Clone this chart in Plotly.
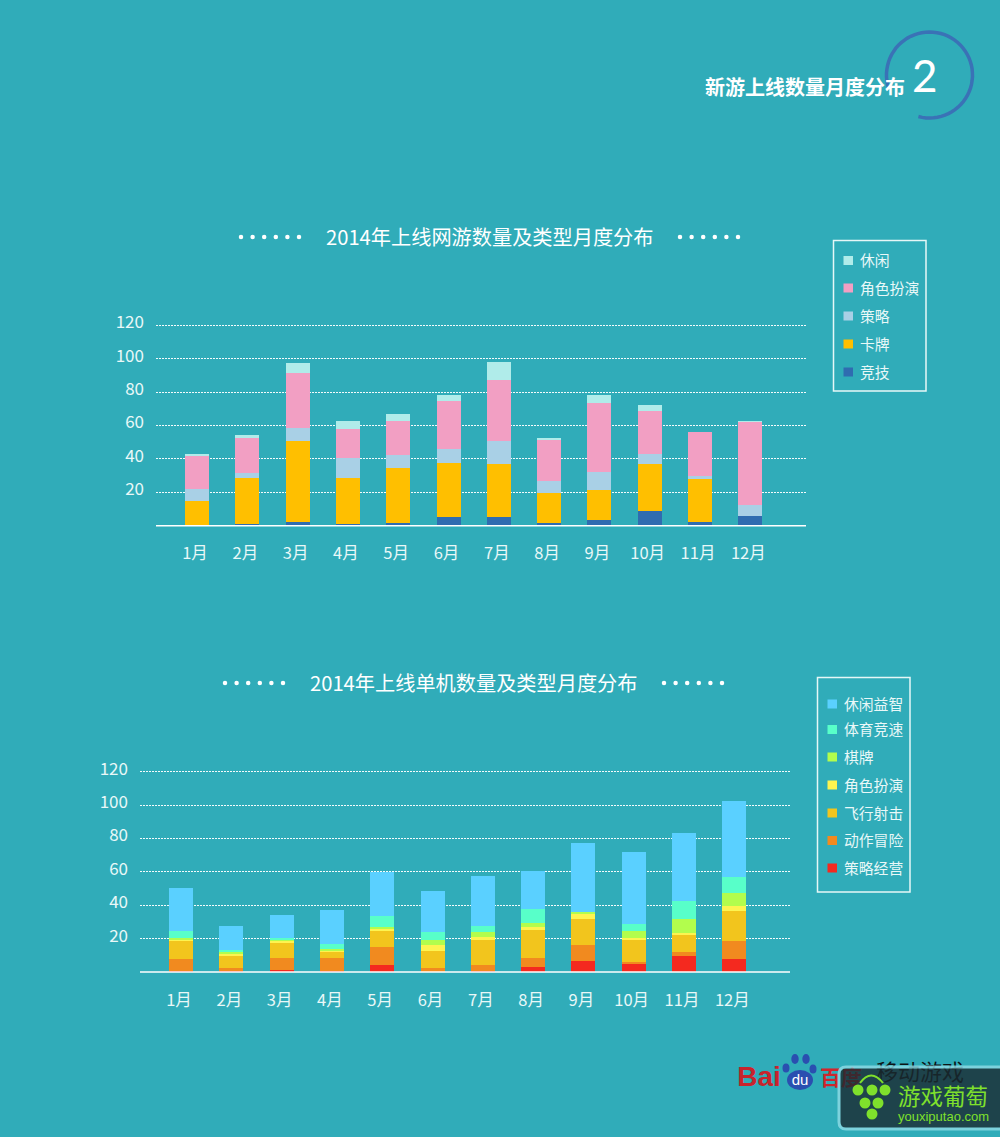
import numpy as np
import plotly.graph_objects as go

months = ["1月","2月","3月","4月","5月","6月","7月","8月","9月","10月","11月","12月"]
yticks = [20,40,60,80,100,120]

online_names = ["竞技","卡牌","策略","角色扮演","休闲"]
online_colors = ["#2f6cb0","#ffbf00","#a9d0e6","#f29fc3","#b0ecea"]
online_jingji = [0.5,1,2.2,1,1.6,5.2,5.2,1.6,3.4,8.8,2.2,5.8]
online_kapai = [14.3,27.8,48.5,27.8,33.1,32.3,31.9,18,18,28.2,25.8,0]
online_celue = [7.2,2.9,8.3,11.7,7.6,8.5,13.6,7.2,10.7,6,1.8,6.6]
online_juese = [20.3,21.3,32.5,17.5,20.4,28.7,36.6,24.5,41.9,25.7,26.3,50.3]
online_xiuxian = [0.7,1.3,6,4.7,4.2,3.6,10.7,1.2,4.3,3.6,0,0.2]
online_series = [online_jingji,online_kapai,online_celue,online_juese,online_xiuxian]

single_names = ["策略经营","动作冒险","飞行射击","角色扮演","棋牌","体育竞速","休闲益智"]
single_colors = ["#f4291f","#f18a1f","#f2c51d","#fdf450","#b2fd4d","#58ffc9","#5ad0ff"]
single_celue = [0.8,0.8,1.4,0.4,4.4,0.2,0.4,3.2,6.8,5,9.8,8]
single_dongzuo = [7.2,1.8,7.2,8.2,10.8,2.4,4,5.4,9.6,1.2,2.4,10.8]
single_feixing = [10.8,7.2,9,3.6,9.6,10.2,15,16.8,15.6,13.2,10.2,18]
single_juese = [0.2,1.2,1.2,1,0.8,3.6,1.8,1.8,3,1.2,1.2,3]
single_qipai = [1.6,1.2,0.6,0.8,1.2,3,3,2.4,1.2,4.2,8.4,7.8]
single_tiyu = [4.2,1.2,1.2,3,7,4.8,3.6,8.4,0,4.2,10.8,9.6]
single_xiuxian = [25.8,14.4,13.8,20.4,26.4,24.6,30,22.8,40.8,43.2,40.2,45]
single_series = [single_celue,single_dongzuo,single_feixing,single_juese,single_qipai,single_tiyu,single_xiuxian]

BG = "#30acb9"
FONT = "Noto Sans CJK SC"
W, H = 1000, 1137
PX_PER_UNIT = 200.4/120
YTOP = 124

fig = go.Figure()
xs = list(range(12))

def add_set(names, colors, series, xa, ya):
    for n, c, v in zip(names, colors, series):
        fig.add_bar(x=xs, y=v, name=n, marker=dict(color=c, line_width=0), width=0.477,
                    xaxis=xa, yaxis=ya, showlegend=False)

add_set(online_names, online_colors, online_series, "x", "y")
add_set(single_names, single_colors, single_series, "x2", "y2")

def xaxis(px0, px1, first, anchor):
    step = 50.3
    return dict(domain=[px0/W, px1/W], range=[(px0-first)/step, (px1-first)/step], anchor=anchor,
                tickmode="array", tickvals=xs, ticktext=months, showgrid=False,
                zeroline=False, showline=False, ticks="", ticklabelstandoff=16, ticklabelshift=-2,
                tickfont=dict(size=16.5, color="#e9f8f8", family=FONT), fixedrange=True)

def yaxis(px0, anchor):
    return dict(domain=[1-px0/H, 1-(px0-YTOP*PX_PER_UNIT)/H], range=[0,YTOP], anchor=anchor,
                tickmode="array", tickvals=yticks, showgrid=True,
                gridcolor="rgba(255,255,255,0.95)", griddash="2px,1px", gridwidth=1,
                zeroline=False, showline=False, ticks="", ticklabelstandoff=11, ticklabelshift=-3,
                tickfont=dict(size=17, color="#e9f8f8", family=FONT), fixedrange=True)

shapes, ann = [], []
# baselines
for y0, a, b in [(525.7,156,806),(972,140,790)]:
    shapes.append(dict(type="line", xref="x3", yref="y3", x0=a, x1=b, y0=y0, y1=y0,
                       line=dict(color="white", width=1.5), layer="above"))

def text(x, y, t, size, color="white", bold=False, family=FONT, anchor="center"):
    s = f"<b>{t}</b>" if bold else t
    ann.append(dict(xref="x3", yref="y3", x=x, y=y, text=s, showarrow=False, xanchor=anchor,
                    yanchor="middle", font=dict(size=size, color=color, family=family)))

text(489.5, 236.5, "2014年上线网游数量及类型月度分布", 20.2)
text(473.5, 682.5, "2014年上线单机数量及类型月度分布", 20.2)

# decorative dot rows beside the titles
dot_x, dot_y = [], []
for x0, y in [(241,237),(680,237),(225,683),(664,683)]:
    dot_x += list(np.linspace(x0, x0+58, 6))
    dot_y += [y]*6
fig.add_scatter(x=dot_x, y=dot_y, mode="markers", marker=dict(color="white", size=4.5, line_width=0),
                xaxis="x3", yaxis="y3", showlegend=False, hoverinfo="skip")

# legends, top entry first
def legend_box(x0, y0, x1, y1, names, colors, rows):
    shapes.append(dict(type="rect", xref="x3", yref="y3", x0=x0, x1=x1, y0=y0, y1=y1,
                       line=dict(color="#e6f7f7", width=1.5)))
    for n, c, ry in zip(names[::-1], colors[::-1], rows):
        shapes.append(dict(type="rect", xref="x3", yref="y3", x0=x0+10, x1=x0+19.5, y0=ry-4.5, y1=ry+4.5,
                           fillcolor=c, line_width=0))
        text(x0+24.5, ry-1, n, 14.8, color="#e9f8f8", anchor="left")

legend_box(833.5, 240.5, 926, 391, online_names, online_colors, [260.5,288,316,344,372])
legend_box(817.5, 677.5, 910, 892, single_names, single_colors, [704,729.5,757,785,813,840.5,868])

# heading with arc
text(804.5, 86, "新游上线数量月度分布", 20, bold=True)
text(925, 75, "2", 44, family="Lato")
deg = np.radians(np.linspace(-198, 105, 60))
pts = [(929.5+43*np.cos(d), 75+43*np.sin(d)) for d in deg]
arc = "M" + " L".join(f"{a:.1f},{b:.1f}" for a, b in pts)
shapes.append(dict(type="path", xref="x3", yref="y3", path=arc, line=dict(color="#3a72b6", width=3.5)))

# Baidu logo (drawn as a trace so the watermark panel can cover it)
for cx, cy, rx, ry in [(786,1068,3.5,4.5),(795,1059,3.7,5),(806,1059,3.7,5),(813,1069,3.5,4.5)]:
    shapes.append(dict(type="circle", xref="x3", yref="y3", layer="below", x0=cx-rx, x1=cx+rx, y0=cy-ry, y1=cy+ry,
                       fillcolor="#2a4fb0", line_width=0))
shapes.append(dict(type="circle", xref="x3", yref="y3", layer="below", x0=787, x1=813, y0=1070, y1=1090,
                   fillcolor="#2a4fb0", line_width=0))
fig.add_scatter(x=[759,800,841,920], y=[1079,1081,1080,1074], mode="text",
                text=["<b>Bai</b>","du","<b>百度</b>","移动游戏"],
                textfont=dict(size=[28,15,21,22], color=["#c8232c","white","#d0242c","#0c1416"],
                              family=["Liberation Sans","Liberation Sans",FONT,FONT]),
                textposition="middle center", xaxis="x3", yaxis="y3", showlegend=False, hoverinfo="skip")

# watermark panel
shapes.append(dict(type="path", xref="x3", yref="y3", layer="above", opacity=0.8,
                   path="M1002,1067 L846,1067 Q839,1067 839,1074 L839,1122 Q839,1129 846,1129 L1002,1129 Z",
                   fillcolor="#1a2a30", line=dict(color="#8fdce6", width=3)))
for cx, cy, r in [(858,1090,5.5),(872,1090,5.5),(885,1090,5.5),(865,1103,5.5),(878,1103,5.5),(872,1114,5.5)]:
    shapes.append(dict(type="circle", xref="x3", yref="y3", layer="above", x0=cx-r, x1=cx+r, y0=cy-r, y1=cy+r,
                       fillcolor="#7fe02c", line_width=0))
shapes.append(dict(type="path", xref="x3", yref="y3", layer="above", path="M860,1083 Q871,1068 883,1083",
                   line=dict(color="#7fe02c", width=2)))
text(943, 1095, "游戏葡萄", 22.5, color="#7fe02c")
text(943.5, 1116, "youxiputao.com", 13, color="#7fe02c", family="Liberation Sans")

fig.update_layout(
    width=W, height=H, margin=dict(l=0,r=0,t=0,b=0,autoexpand=False), paper_bgcolor=BG, plot_bgcolor="rgba(0,0,0,0)",
    barmode="stack", bargap=0, font=dict(family=FONT, color="white"), hovermode=False, showlegend=False,
    xaxis=xaxis(156,806,197,"y"), yaxis=yaxis(525.7,"x"),
    xaxis2=xaxis(140,790,181,"y2"), yaxis2=yaxis(972,"x2"),
    xaxis3=dict(domain=[0,1], range=[0,W], visible=False, fixedrange=True, anchor="y3"),
    yaxis3=dict(domain=[0,1], range=[H,0], visible=False, fixedrange=True, anchor="x3"),
    shapes=shapes, annotations=ann,
)
fig.write_html("out.html", post_script="document.body.style.margin='0';document.body.style.overflow='hidden';",
               config=dict(displayModeBar=False))
